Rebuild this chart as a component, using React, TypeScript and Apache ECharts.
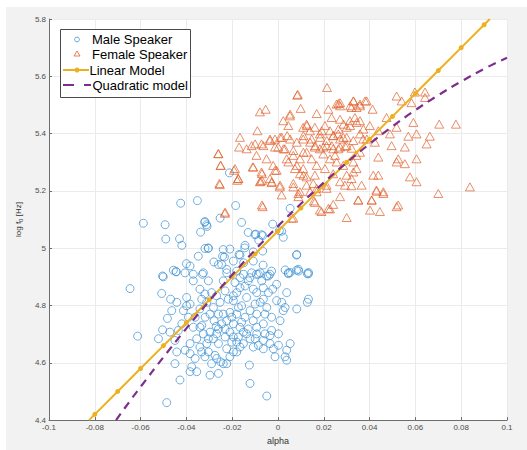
import React, { useEffect, useRef } from "react";
import * as echarts from "echarts";

const xTickLabels = ["-0.1", "-0.08", "-0.06", "-0.04", "-0.02", "0", "0.02", "0.04", "0.06", "0.08", "0.1"];
const yTickLabels = ["4.4", "4.6", "4.8", "5", "5.2", "5.4", "5.6", "5.8"];

const maleSpeaker: number[][] = [
  [-0.0588, 5.087], [-0.0493, 5.082], [-0.0425, 5.157], [-0.0352, 5.166], [-0.049, 5.032], [-0.043, 5.033],
  [-0.042, 5.01], [-0.032, 5.09], [-0.031, 5.076], [-0.0338, 5.056], [-0.0253, 5.105], [-0.0185, 5.149],
  [-0.0212, 5.263], [-0.0159, 5.09], [-0.013, 5.055], [-0.0097, 5.049], [-0.0067, 5.044], [-0.0084, 5.028],
  [-0.0023, 5.084], [0.0006, 5.061], [0.0023, 5.038], [0.0053, 5.139], [-0.0144, 5.01], [-0.0319, 4.999],
  [-0.0304, 5.001], [-0.0348, 4.972], [-0.0239, 4.995], [-0.021, 4.997], [-0.017, 4.978], [-0.0242, 4.972],
  [-0.0234, 4.969], [-0.026, 4.943], [-0.028, 4.952], [-0.04, 4.946], [-0.0384, 4.938], [-0.0457, 4.923],
  [-0.0445, 4.918], [-0.0504, 4.903], [-0.037, 4.909], [-0.033, 4.909], [-0.015, 4.949], [-0.0108, 4.955],
  [-0.0067, 4.99], [0.0082, 4.978], [0.0031, 4.924], [0.0053, 4.915], [0.009, 4.92], [0.0133, 4.915],
  [-0.0086, 4.909], [-0.0035, 4.909], [-0.0224, 4.926], [-0.018, 4.92],
  [-0.0101, 5.047], [-0.0072, 5.047], [0.0016, 5.059], [0.0081, 4.976], [0.0045, 4.911], [0.0081, 4.923],
  [0.0128, 4.911], [-0.0319, 5.093], [-0.0312, 5.082], [-0.0305, 4.999], [-0.0246, 4.943], [-0.0195, 4.955],
  [-0.0166, 4.976], [-0.0108, 4.987], [-0.0145, 5.001], [-0.0065, 4.941], [-0.0094, 4.909], [-0.0042, 4.903],
  [-0.0123, 4.897], [-0.0166, 4.897],
  [-0.0646, 4.859], [-0.0613, 4.693], [-0.0486, 4.461], [-0.0508, 4.842], [-0.0501, 4.9], [-0.0469, 4.822],
  [-0.0483, 4.755], [-0.0504, 4.715], [-0.0522, 4.684], [-0.0472, 4.707], [-0.0442, 4.638], [-0.045, 4.597],
  [-0.0428, 4.54], [-0.0445, 4.918], [-0.0406, 4.914], [-0.037, 4.886], [-0.0399, 4.828], [-0.0384, 4.805],
  [-0.0413, 4.782], [-0.0391, 4.759], [-0.037, 4.724], [-0.042, 4.736], [-0.0384, 4.667], [-0.0406, 4.644],
  [-0.0384, 4.632], [-0.0362, 4.615], [-0.0377, 4.586], [-0.0355, 4.569], [-0.0384, 4.569], [-0.0341, 4.857],
  [-0.0333, 4.822], [-0.0311, 4.811], [-0.0341, 4.788], [-0.0318, 4.759], [-0.0333, 4.73], [-0.0326, 4.701],
  [-0.0355, 4.684], [-0.0341, 4.655], [-0.0311, 4.667], [-0.0304, 4.638], [-0.0319, 4.621], [-0.029, 4.845],
  [-0.0268, 4.834], [-0.0253, 4.811], [-0.0282, 4.793], [-0.0279, 4.747], [-0.027, 4.727], [-0.026, 4.718],
  [-0.0297, 4.707], [-0.0282, 4.684], [-0.026, 4.667], [-0.0275, 4.626], [-0.0268, 4.615], [-0.025, 4.603],
  [-0.0297, 4.557], [-0.026, 4.563], [-0.0239, 4.886], [-0.0224, 4.914], [-0.0231, 4.851], [-0.0217, 4.822],
  [-0.021, 4.776], [-0.0239, 4.77], [-0.0224, 4.747], [-0.0195, 4.736], [-0.021, 4.707], [-0.0231, 4.69],
  [-0.0202, 4.672], [-0.0224, 4.649], [-0.021, 4.621], [-0.0239, 4.597], [-0.0188, 4.88], [-0.018, 4.845],
  [-0.0195, 4.817], [-0.0173, 4.793], [-0.018, 4.77], [-0.0166, 4.724], [-0.0173, 4.69], [-0.0166, 4.655],
  [-0.018, 4.638], [-0.0151, 4.909], [-0.0144, 4.868], [-0.0137, 4.828], [-0.0144, 4.759], [-0.013, 4.718],
  [-0.0137, 4.701], [-0.0151, 4.667], [-0.0125, 4.592], [-0.0122, 4.528], [-0.0115, 4.914], [-0.0108, 4.857],
  [-0.01, 4.805], [-0.0093, 4.77], [-0.0108, 4.747], [-0.0093, 4.724], [-0.01, 4.684], [-0.0086, 4.661],
  [-0.0078, 4.914], [-0.0071, 4.886], [-0.0064, 4.862], [-0.0049, 4.903], [-0.0028, 4.92], [-0.0023, 4.857],
  [-0.0064, 4.822], [-0.0049, 4.793], [-0.0057, 4.77], [-0.0064, 4.736], [-0.0057, 4.701], [-0.0064, 4.678],
  [-0.0028, 4.759], [-0.0028, 4.713], [-0.002, 4.649], [-0.0013, 4.621], [-0.0035, 4.667], [-0.0006, 4.817],
  [0.0016, 4.811], [0.0023, 4.782], [0.0009, 4.747], [0.0002, 4.701], [0.0038, 4.644], [0.0053, 4.667],
  [0.0031, 4.621], [0.0038, 4.609], [0.0082, 4.788], [0.0133, 4.822], [0.0128, 4.811], [0.0089, 4.926],
  [0.0133, 4.911], [0.0045, 4.914], [-0.0049, 4.484],
  [-0.0326, 4.914], [-0.0304, 4.886], [-0.0319, 4.84], [-0.0297, 4.77], [-0.026, 4.77], [-0.0246, 4.736],
  [-0.0231, 4.718], [-0.0195, 4.69], [-0.018, 4.672], [-0.0151, 4.707], [-0.0122, 4.684], [-0.0108, 4.655],
  [-0.0093, 4.701], [-0.0195, 4.834], [-0.0166, 4.862], [-0.013, 4.886], [-0.0093, 4.845], [-0.0078, 4.811],
  [-0.0122, 4.782], [-0.0159, 4.742], [-0.0202, 4.759], [-0.0268, 4.701], [-0.0304, 4.684], [-0.0341, 4.724],
  [-0.0362, 4.759], [-0.0399, 4.799], [-0.0442, 4.811], [-0.0464, 4.782], [-0.0435, 4.713], [-0.045, 4.678],
  [-0.0333, 4.638], [-0.029, 4.597], [-0.0224, 4.597], [-0.0195, 4.638], [-0.0064, 4.649], [-0.0035, 4.695],
  [0.0002, 4.661], [0.0031, 4.793], [-0.0006, 4.874], [0.0038, 4.845], [-0.0042, 4.845], [-0.0159, 4.799],
];

const femaleSpeaker: number[][] = [
  [0.0084, 5.534], [-0.0079, 5.476], [-0.0054, 5.485], [0.0099, 5.488], [0.0169, 5.47], [0.022, 5.485],
  [0.0256, 5.503], [0.0271, 5.508], [0.033, 5.514], [0.0321, 5.491], [0.0052, 5.462], [0.0023, 5.445],
  [0.0045, 5.428], [-0.009, 5.41], [-0.0166, 5.387], [-0.0261, 5.33], [-0.0251, 5.289], [-0.0254, 5.222],
  [-0.0188, 5.278], [-0.0174, 5.243], [-0.017, 5.353], [-0.0137, 5.347], [-0.0115, 5.358], [-0.0072, 5.364],
  [-0.0094, 5.324], [-0.0108, 5.283], [-0.0072, 5.266], [-0.0079, 5.232], [-0.005, 5.312], [-0.0035, 5.381],
  [-0.0013, 5.381], [0.0016, 5.387], [0.004, 5.393], [0.0001, 5.353], [0.003, 5.347], [-0.0021, 5.289],
  [-0.0006, 5.272], [-0.0035, 5.243], [0.0009, 5.22], [0.0045, 5.301], [0.0067, 5.324], [0.0096, 5.312],
  [0.0074, 5.278], [0.0096, 5.26], [0.0067, 5.226], [0.011, 5.422], [0.0125, 5.433], [0.014, 5.41],
  [0.0161, 5.422], [0.0183, 5.399], [0.0205, 5.428], [0.0227, 5.41], [0.0241, 5.393], [0.0263, 5.399],
  [0.0285, 5.387], [0.03, 5.422], [0.0314, 5.445], [0.0336, 5.456], [0.0271, 5.45], [0.0234, 5.456],
  [0.011, 5.381], [0.014, 5.37], [0.0161, 5.353], [0.0183, 5.347], [0.0125, 5.335], [0.0147, 5.312],
  [0.0169, 5.289], [0.011, 5.278], [0.0125, 5.249], [0.0161, 5.255], [0.0212, 5.358], [0.0241, 5.347],
  [0.0271, 5.353], [0.03, 5.358], [0.0227, 5.312], [0.0256, 5.301], [0.0285, 5.289], [0.0205, 5.278],
  [0.0241, 5.26], [0.03, 5.255], [0.0329, 5.266], [0.0271, 5.232], [0.0212, 5.22], [0.0343, 5.324],
  [0.0096, 5.197], [0.0169, 5.197],
  [-0.026, 5.33], [-0.025, 5.289], [-0.0256, 5.226], [-0.0192, 5.272], [-0.0173, 5.243], [-0.0231, 5.126],
  [-0.0067, 5.145], [-0.011, 5.284], [-0.007, 5.26], [-0.007, 5.237], [-0.0027, 5.232], [0.0016, 5.186],
  [0.0067, 5.214], [0.0089, 5.191], [0.014, 5.197], [0.0169, 5.209], [0.0183, 5.133], [0.0157, 5.165],
  [0.0067, 5.105], [0.022, 5.139], [-0.0013, 5.272], [0.0038, 5.312], [0.0082, 5.289], [0.0111, 5.255],
  [-0.0178, 5.237], [-0.0076, 5.234], [-0.0028, 5.229], [0.0008, 5.214], [-0.007, 5.151], [-0.0232, 5.122],
  [0.006, 5.105], [0.0089, 5.18], [0.0125, 5.22], [0.0161, 5.16], [0.019, 5.128], [0.0227, 5.137],
  [0.0241, 5.153], [0.0271, 5.18], [0.03, 5.107], [0.0351, 5.168], [0.0402, 5.133], [0.0409, 5.168],
  [0.0445, 5.128], [0.043, 5.199], [0.046, 5.191], [0.0518, 5.145], [0.0292, 5.22], [0.0321, 5.218],
  [0.0212, 5.209], [0.0154, 5.226],
  [0.0598, 5.545], [0.0642, 5.545], [0.0518, 5.531], [0.054, 5.514], [0.0583, 5.508], [0.0642, 5.526],
  [0.0329, 5.514], [0.0358, 5.503], [0.0387, 5.514], [0.0413, 5.485], [0.0343, 5.491], [0.0474, 5.456],
  [0.0518, 5.422], [0.0591, 5.439], [0.0704, 5.433], [0.0777, 5.433], [0.0569, 5.391], [0.0605, 5.399],
  [0.0663, 5.391], [0.0649, 5.364], [0.0489, 5.399], [0.0496, 5.358], [0.0554, 5.353], [0.0358, 5.445],
  [0.0401, 5.428], [0.0438, 5.41], [0.0372, 5.381], [0.0423, 5.37], [0.0438, 5.318], [0.0518, 5.301],
  [0.0554, 5.295], [0.0605, 5.312], [0.0525, 5.312], [0.0576, 5.249], [0.0605, 5.232], [0.0416, 5.255],
  [0.0438, 5.255], [0.0365, 5.22], [0.046, 5.197], [0.043, 5.203], [0.0409, 5.168], [0.035, 5.168],
  [0.0525, 5.151], [0.07, 5.191], [0.0838, 5.214], [0.0329, 5.301], [0.0343, 5.278], [0.0321, 5.243],
  [0.0086, 5.537], [0.0264, 5.505], [0.038, 5.514], [0.0358, 5.497], [0.0315, 5.497], [0.0271, 5.497],
  [0.0053, 5.468], [0.0126, 5.428], [0.0191, 5.41], [0.0264, 5.416], [0.0286, 5.433], [0.0315, 5.428],
  [0.0344, 5.439], [0.0373, 5.416], [0.0358, 5.399], [0.0388, 5.381], [0.0111, 5.393], [0.0147, 5.381],
  [0.0184, 5.387], [0.0213, 5.376], [0.0242, 5.393], [0.0271, 5.381], [0.03, 5.387], [0.0329, 5.376],
  [0.0162, 5.358], [0.0198, 5.353], [0.0235, 5.358], [0.0264, 5.347], [0.0293, 5.356], [0.0322, 5.349],
  [0.0082, 5.37], [0.0053, 5.381], [0.0009, 5.387], [-0.0035, 5.376], [-0.0013, 5.353], [-0.0064, 5.358],
  [-0.01, 5.364], [0.0024, 5.347], [0.0067, 5.341], [0.0111, 5.335], [0.0198, 5.329], [0.0249, 5.324],
  [0.0358, 5.335], [0.0214, 5.561],
];

const linearX = [-0.0825, -0.08, -0.07, -0.06, -0.05, -0.04, -0.03, -0.02, -0.01, 0, 0.01, 0.02, 0.03, 0.04, 0.05, 0.06, 0.07, 0.08, 0.09, 0.0925];
const linearY = [4.4, 4.42, 4.5, 4.58, 4.66, 4.74, 4.82, 4.9, 4.98, 5.06, 5.14, 5.22, 5.3, 5.38, 5.46, 5.54, 5.62, 5.7, 5.78, 5.8];
const linearMarked = [false, true, true, true, true, true, true, true, true, true, true, true, true, true, true, true, true, true, true, false];

const quadX = [-0.0707, -0.065, -0.06, -0.05, -0.04, -0.03, -0.02, -0.01, 0, 0.01, 0.02, 0.03, 0.04, 0.05, 0.06, 0.07, 0.08, 0.09, 0.1];
const quadY = [4.4, 4.463, 4.516, 4.62, 4.72, 4.816, 4.907, 4.994, 5.077, 5.155, 5.229, 5.299, 5.364, 5.425, 5.482, 5.534, 5.582, 5.626, 5.665];

const MALE = "#3a8fd3";
const FEMALE = "#e0622c";
const LIN = "#EDB120";
const QUAD = "#7E2F8E";
const FONT = "'Liberation Sans', Arial, sans-serif";

export default function App() {
  const ref = useRef<HTMLDivElement>(null);
  useEffect(() => {
    if (!ref.current) return;
    const chart = echarts.init(ref.current, undefined, { renderer: "svg" });
    const ox = 6;
    const oy = 7;
    chart.setOption({
      animation: false,
      backgroundColor: "#f2f2f2",
      grid: {
        left: 49 - ox,
        top: 19 - oy,
        right: 20,
        bottom: 443 - (424 - oy),
        show: true,
        backgroundColor: "#ffffff",
        borderWidth: 0,
      },
      xAxis: {
        type: "value",
        min: -0.1,
        max: 0.1,
        interval: 0.02,
        name: "alpha",
        nameLocation: "middle",
        nameGap: 12,
        nameTextStyle: { fontFamily: FONT, fontSize: 9, color: "#333" },
        axisLine: { onZero: false, lineStyle: { color: "#6e6e6e", width: 1 } },
        axisTick: { show: true, inside: true, length: 3, lineStyle: { color: "#6e6e6e" } },
        axisLabel: {
          fontFamily: FONT,
          fontSize: 8,
          color: "#4d4d4d",
          margin: 3,
          formatter: (_v: number, i: number) => xTickLabels[i] ?? "",
        },
        splitLine: { show: true, lineStyle: { color: "#ebebeb", width: 1 } },
      },
      yAxis: {
        type: "value",
        min: 4.4,
        max: 5.8,
        interval: 0.2,
        name: "{a|log f}{s|0}{a| [Hz]}",
        nameLocation: "middle",
        nameRotate: 90,
        nameGap: 3,
        nameTextStyle: {
          fontFamily: FONT,
          color: "#333",
          rich: {
            a: { fontFamily: FONT, fontSize: 8, color: "#333" },
            s: { fontFamily: FONT, fontSize: 6, color: "#333", verticalAlign: "bottom", padding: [4, 0, 0, 0] },
          },
        },
        axisLine: { show: true, onZero: false, lineStyle: { color: "#6e6e6e", width: 1 } },
        axisTick: { show: true, inside: true, length: 3, lineStyle: { color: "#6e6e6e" } },
        axisLabel: {
          fontFamily: FONT,
          fontSize: 8,
          color: "#4d4d4d",
          margin: 3,
          formatter: (_v: number, i: number) => yTickLabels[i] ?? "",
        },
        splitLine: { show: true, lineStyle: { color: "#ebebeb", width: 1 } },
      },
      series: [
        {
          name: "Male Speaker",
          type: "scatter",
          data: maleSpeaker,
          symbol: "circle",
          symbolSize: 8,
          itemStyle: { color: "rgba(0,0,0,0)", borderColor: MALE, borderWidth: 0.9 },
          z: 2,
        },
        {
          name: "Female Speaker",
          type: "scatter",
          data: femaleSpeaker,
          symbol: "triangle",
          symbolSize: [9, 8],
          itemStyle: { color: "rgba(0,0,0,0)", borderColor: FEMALE, borderWidth: 0.9 },
          z: 3,
        },
        {
          name: "Linear Model",
          type: "line",
          data: linearX.map((x, i) => ({
            value: [x, linearY[i]],
            symbol: linearMarked[i] ? "circle" : "none",
          })),
          symbol: "circle",
          symbolSize: 5,
          showSymbol: true,
          showAllSymbol: true,
          clip: true,
          lineStyle: { color: LIN, width: 2 },
          itemStyle: { color: LIN, borderColor: LIN, borderWidth: 0 },
          z: 4,
        },
        {
          name: "Quadratic model",
          type: "line",
          data: quadX.map((x, i) => [x, quadY[i]]),
          smooth: true,
          showSymbol: false,
          symbol: "none",
          clip: true,
          lineStyle: { color: QUAD, width: 2.2, type: [8, 6] },
          z: 5,
        },
      ],
      graphic: [
        {
          type: "group",
          x: -ox,
          y: -oy,
          children: [
            {
              type: "rect",
              shape: { x: 60.5, y: 29.5, width: 130, height: 68 },
              style: { fill: "#ffffff", stroke: "#4a4a4a", lineWidth: 1 },
              z: 100,
            },
            {
              type: "circle",
              shape: { cx: 77, cy: 39.5, r: 2.4 },
              style: { fill: "none", stroke: MALE, lineWidth: 0.8 },
              z: 101,
            },
            {
              type: "polygon",
              shape: { points: [[77, 51], [74, 56], [80, 56]] },
              style: { fill: "none", stroke: FEMALE, lineWidth: 0.8 },
              z: 101,
            },
            {
              type: "line",
              shape: { x1: 63, y1: 70, x2: 89, y2: 70 },
              style: { stroke: LIN, lineWidth: 2 },
              z: 101,
            },
            {
              type: "circle",
              shape: { cx: 77, cy: 70, r: 2.5 },
              style: { fill: LIN },
              z: 102,
            },
            {
              type: "line",
              shape: { x1: 63, y1: 85, x2: 91, y2: 85 },
              style: { stroke: QUAD, lineWidth: 2, lineDash: [11, 10] },
              z: 101,
            },
            {
              type: "text",
              x: 92,
              y: 39.5,
              style: { text: "Male Speaker", font: `13px ${FONT}`, fill: "#000", verticalAlign: "middle" },
              z: 101,
            },
            {
              type: "text",
              x: 92,
              y: 54.5,
              style: { text: "Female Speaker", font: `13px ${FONT}`, fill: "#000", verticalAlign: "middle" },
              z: 101,
            },
            {
              type: "text",
              x: 89.5,
              y: 70,
              style: { text: "Linear Model", font: `13px ${FONT}`, fill: "#000", verticalAlign: "middle" },
              z: 101,
            },
            {
              type: "text",
              x: 92.5,
              y: 85,
              style: { text: "Quadratic model", font: `13px ${FONT}`, fill: "#000", verticalAlign: "middle" },
              z: 101,
            },
          ],
        },
      ],
    });
    return () => chart.dispose();
  }, []);
  return (
    <div style={{ position: "fixed", left: 0, top: 0, width: 527, height: 450, background: "#ffffff" }}>
      <div ref={ref} style={{ position: "absolute", left: 6, top: 7, width: 521, height: 443 }} />
    </div>
  );
}
